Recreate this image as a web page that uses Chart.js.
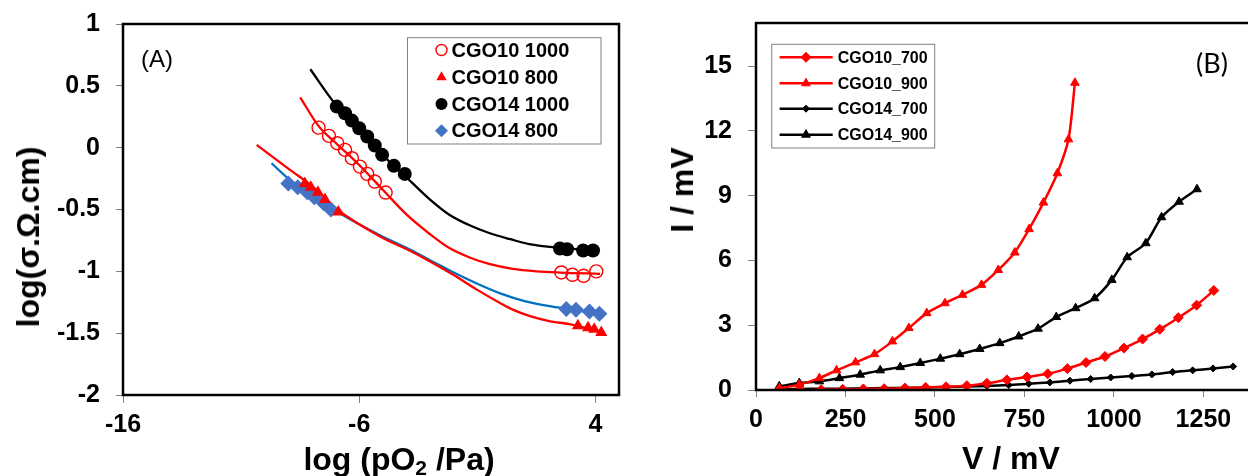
<!DOCTYPE html>
<html>
<head>
<meta charset="utf-8">
<script src="https://cdn.jsdelivr.net/npm/chart.js@4.4.1/dist/chart.umd.min.js"></script>
<style>
    html, body { margin: 0; padding: 0; width: 1248px; height: 476px; overflow: hidden; background: #fff; }
    .wrap { position: absolute; top: 0; height: 476px; }
    #wrapA { left: 0; width: 630px; }
    #wrapB { left: 640px; width: 640px; }
    .lbl { position: absolute; font-family: "Liberation Sans", Arial, sans-serif; font-weight: bold;
           font-size: 32px; line-height: 32px; white-space: nowrap; color: #000; }
    .lbl sub { font-size: 21px; line-height: 0; vertical-align: -5px; }
    .rot { transform: translate(-50%, -50%) rotate(-90deg); }
    .hc { transform: translateX(-50%); }
    .tag { position: absolute; font-family: "Liberation Sans", Arial, sans-serif; font-size: 24px; line-height: 24px; color: #000; }
</style>
</head>
<body>
<div class="wrap" id="wrapA"><canvas id="chartA"></canvas></div>
<div class="wrap" id="wrapB"><canvas id="chartB"></canvas></div>

<div class="lbl rot" style="left:28px; top:237px;">log(σ.Ω.cm)</div>
<div class="lbl hc" style="left:399px; top:443px;">log (pO<sub>2</sub> /Pa)</div>
<div class="lbl rot" style="left:682px; top:190px;">I / mV</div>
<div class="lbl hc" style="left:1011px; top:442px;">V / mV</div>
<div class="tag" style="left:141px; top:47px;">(A)</div>
<div class="tag" style="left:1196px; top:51px; font-family: Lato, sans-serif; font-size: 27px;">(B)</div>

<script>
// ---- panel A: log(sigma) vs log(pO2) ----
const xTicksA = [-16, -6, 4];
const yTicksA = [1, 0.5, 0, -0.5, -1, -1.5, -2];
const cgo10_1000_x = [-7.72, -7.28, -6.93, -6.60, -6.31, -5.97, -5.66, -5.34, -4.88, 2.56, 3.03, 3.50, 4.04];
const cgo10_1000_y = [0.162, 0.095, 0.036, -0.018, -0.085, -0.153, -0.212, -0.274, -0.363, -1.009, -1.028, -1.036, -1.000];
const cgo10_800_x = [-8.3, -8.05, -7.75, -7.45, -6.88, 3.26, 3.69, 3.95, 4.25];
const cgo10_800_y = [-0.29, -0.32, -0.36, -0.42, -0.52, -1.44, -1.457, -1.468, -1.495];
const cgo14_1000_x = [-6.95, -6.60, -6.31, -6.0, -5.66, -5.34, -5.03, -4.53, -4.07, 2.50, 2.80, 3.48, 3.90];
const cgo14_1000_y = [0.332, 0.278, 0.219, 0.157, 0.090, 0.017, -0.058, -0.147, -0.212, -0.815, -0.822, -0.832, -0.832];
const cgo14_800_x = [-9.0, -8.6, -8.2, -7.9, -7.5, -7.2, 2.77, 3.18, 3.75, 4.17];
const cgo14_800_y = [-0.29, -0.32, -0.36, -0.40, -0.45, -0.50, -1.305, -1.311, -1.325, -1.344];

// fitted curves
const fit14_1000_x = [-8.07, -7, -6, -5, -4, -3, -2.2, -1.3, -0.5, 0.4, 1.2, 2.5, 4.0];
const fit14_1000_y = [0.634, 0.35, 0.155, -0.06, -0.24, -0.42, -0.54, -0.63, -0.69, -0.74, -0.78, -0.81, -0.83];
const fit10_1000_x = [-8.5, -7.7, -7, -6, -5, -4, -3, -2.2, -1.3, -0.5, 0.5, 1.5, 2.5, 4.2];
const fit10_1000_y = [0.407, 0.17, 0.04, -0.14, -0.34, -0.54, -0.70, -0.81, -0.89, -0.94, -0.98, -1.0, -1.01, -1.02];
const fit10_800_x = [-10.34, -9, -8, -7, -6, -5, -4, -3, -2, -1, 0, 0.5, 1.2, 2, 3, 4.3];
const fit10_800_y = [0.022, -0.17, -0.31, -0.49, -0.62, -0.73, -0.82, -0.92, -1.03, -1.15, -1.26, -1.31, -1.36, -1.40, -1.43, -1.49];
const fit14_800_x = [-9.71, -9, -8, -7, -6, -5, -4, -3, -2, -1, 0, 1, 2, 3, 4.2];
const fit14_800_y = [-0.126, -0.25, -0.39, -0.51, -0.62, -0.72, -0.81, -0.91, -1.01, -1.10, -1.18, -1.24, -1.28, -1.31, -1.345];

// ---- panel B: I vs V ----
const xTicksB = [0, 250, 500, 750, 1000, 1250];
const yTicksB = [0, 3, 6, 9, 12, 15];
const v10_700 = [65, 123, 182, 242, 300, 358, 416, 474, 531, 589, 645, 701, 757, 815, 870, 922, 975, 1028, 1080, 1128, 1180, 1231, 1279];
const i10_700 = [0, 0, 0.01, 0.03, 0.05, 0.06, 0.09, 0.12, 0.15, 0.20, 0.31, 0.47, 0.60, 0.75, 0.99, 1.27, 1.55, 1.94, 2.36, 2.81, 3.35, 3.93, 4.61];
const v10_900 = [65, 121, 177, 225, 278, 331, 381, 427, 477, 528, 577, 630, 677, 723, 763, 803, 842, 873, 891];
const i10_900 = [0.09, 0.25, 0.55, 0.91, 1.28, 1.66, 2.25, 2.87, 3.56, 4.02, 4.41, 4.87, 5.56, 6.37, 7.45, 8.68, 10.04, 11.61, 14.23];
const v14_700 = [65, 123, 182, 242, 300, 358, 416, 474, 531, 589, 645, 706, 762, 821, 877, 935, 991, 1050, 1106, 1164, 1220, 1277, 1333];
const i14_700 = [0.05, 0.05, 0.06, 0.06, 0.07, 0.09, 0.10, 0.12, 0.14, 0.16, 0.19, 0.23, 0.29, 0.35, 0.43, 0.51, 0.58, 0.65, 0.72, 0.83, 0.91, 1.00, 1.09];
const v14_900 = [65, 121, 177, 233, 291, 347, 403, 459, 515, 569, 625, 681, 734, 788, 839, 893, 946, 994, 1037, 1089, 1133, 1182, 1232];
const i14_900 = [0.17, 0.32, 0.40, 0.55, 0.71, 0.91, 1.06, 1.25, 1.45, 1.66, 1.90, 2.17, 2.48, 2.84, 3.38, 3.79, 4.25, 5.10, 6.15, 6.80, 8.00, 8.72, 9.30];

const pts = (xs, ys) => xs.map((x, i) => ({ x: x, y: ys[i] }));
const FONT = '"Liberation Sans", Arial, sans-serif';

function drawMarker(ctx, style, x, y, r, fill, stroke, bw) {
    ctx.beginPath();
    if (style === 'triangle') {
        ctx.moveTo(x, y - r);
        ctx.lineTo(x + r * 0.866, y + r / 2);
        ctx.lineTo(x - r * 0.866, y + r / 2);
        ctx.closePath();
    } else if (style === 'rectRot') {
        ctx.moveTo(x, y - r); ctx.lineTo(x + r, y); ctx.lineTo(x, y + r); ctx.lineTo(x - r, y);
        ctx.closePath();
    } else {
        ctx.arc(x, y, r, 0, Math.PI * 2);
    }
    ctx.fillStyle = fill;
    ctx.fill();
    if (bw > 0) { ctx.strokeStyle = stroke; ctx.lineWidth = bw; ctx.stroke(); }
}

// black box round the plot area
const frame = {
    id: 'frame',
    afterDraw(chart) {
        const { ctx, chartArea: a } = chart;
        ctx.save();
        ctx.strokeStyle = '#000';
        ctx.lineWidth = 2.5;
        ctx.strokeRect(a.left, a.top, a.right - a.left, a.bottom - a.top);
        ctx.restore();
    }
};

// legend drawn inside the plot, in a grey box
const boxLegend = {
    id: 'boxLegend',
    afterDraw(chart, args, o) {
        const ctx = chart.ctx;
        ctx.save();
        ctx.fillStyle = '#fff';
        ctx.fillRect(o.box[0], o.box[1], o.box[2], o.box[3]);
        ctx.strokeStyle = '#808080';
        ctx.lineWidth = 1;
        ctx.strokeRect(o.box[0], o.box[1], o.box[2], o.box[3]);
        o.items.forEach((idx, k) => {
            const ds = chart.data.datasets[idx];
            const y = o.rows[k];
            if (o.line) {
                ctx.beginPath();
                ctx.moveTo(o.line[0], y);
                ctx.lineTo(o.line[1], y);
                ctx.strokeStyle = ds.borderColor;
                ctx.lineWidth = ds.borderWidth;
                ctx.stroke();
            }
            drawMarker(ctx, ds.pointStyle, o.markerX, y, o.radius[k],
                ds.pointBackgroundColor, ds.pointBorderColor, ds.pointBorderWidth);
            ctx.fillStyle = '#000';
            ctx.font = o.font;
            ctx.textBaseline = 'middle';
            ctx.fillText(ds.label, o.textX, y + 1);
        });
        ctx.restore();
    }
};

// size is fixed, and the label half-heights must not push the plot area in
function fixSize(prop, size) {
    return s => {
        s[prop] = size;
        s.paddingTop = 0; s.paddingBottom = 0; s.paddingLeft = 0; s.paddingRight = 0;
    };
}

function axis(min, max, ticks, tickLen, pad, fit) {
    return {
        type: 'linear', min: min, max: max,
        afterBuildTicks: s => { s.ticks = ticks.map(v => ({ value: v })); },
        afterFit: fit,
        ticks: { color: '#000', padding: pad, maxRotation: 0, autoSkip: false,
                 font: { family: FONT, size: 25, weight: 'bold' },
                 callback: v => String(v) },
        grid: { drawOnChartArea: false, drawTicks: true, tickLength: tickLen, color: '#7f7f7f', lineWidth: 1 },
        border: { display: false }
    };
}

const pointSet = (label, data, style, r, fill, stroke, bw) => ({
    label: label, data: data, pointStyle: style, pointRadius: r,
    pointBackgroundColor: fill, pointBorderColor: stroke, pointBorderWidth: bw,
    borderColor: stroke, showLine: false, order: 1
});
const curve = (data, color) => ({
    label: '', data: data, showLine: true, pointRadius: 0, borderColor: color,
    borderWidth: 2.3, cubicInterpolationMode: 'monotone', order: 2
});

new Chart(document.getElementById('chartA'), {
    type: 'scatter',
    data: {
        datasets: [
            pointSet('CGO10 1000', pts(cgo10_1000_x, cgo10_1000_y), 'circle', 6.5, 'rgba(255,255,255,0)', '#ff0000', 1.4),
            pointSet('CGO10 800', pts(cgo10_800_x, cgo10_800_y), 'triangle', 7, '#ff0000', '#ff0000', 0),
            pointSet('CGO14 1000', pts(cgo14_1000_x, cgo14_1000_y), 'circle', 7, '#000000', '#000000', 0),
            pointSet('CGO14 800', pts(cgo14_800_x, cgo14_800_y), 'rectRot', 8, '#4472c4', '#4472c4', 0),
            curve(pts(fit14_1000_x, fit14_1000_y), '#000000'),
            curve(pts(fit10_1000_x, fit10_1000_y), '#ff0000'),
            curve(pts(fit10_800_x, fit10_800_y), '#ff0000'),
            curve(pts(fit14_800_x, fit14_800_y), '#0070c0')
        ]
    },
    options: {
        responsive: true, maintainAspectRatio: false, animation: false,
        layout: { padding: { top: 24, right: 11, left: 0, bottom: 0 } },
        scales: {
            x: axis(-16, 5, xTicksA, 8, 7, fixSize('height', 81)),
            y: axis(-2, 1, yTicksA, 7, 16, fixSize('width', 123))
        },
        plugins: {
            legend: { display: false },
            tooltip: { enabled: false },
            boxLegend: {
                box: [407.5, 37.7, 193.5, 106.3],
                rows: [50, 77.3, 104, 130.7],
                items: [0, 1, 2, 3],
                radius: [5.5, 6, 6, 6.5],
                markerX: 441.5, textX: 451.5,
                font: 'bold 20px ' + FONT
            }
        }
    },
    plugins: [frame, boxLegend]
});

const ivSet = (label, xs, ys, color, style, r) => ({
    label: label, data: pts(xs, ys), showLine: true, borderColor: color, borderWidth: 2.5,
    pointStyle: style, pointRadius: r, pointBackgroundColor: color, pointBorderColor: color,
    pointBorderWidth: 1, tension: 0.25
});

new Chart(document.getElementById('chartB'), {
    type: 'scatter',
    data: {
        datasets: [
            ivSet('CGO10_700', v10_700, i10_700, '#ff0000', 'rectRot', 5),
            ivSet('CGO10_900', v10_900, i10_900, '#ff0000', 'triangle', 5),
            ivSet('CGO14_700', v14_700, i14_700, '#000000', 'rectRot', 3.5),
            ivSet('CGO14_900', v14_900, i14_900, '#000000', 'triangle', 5)
        ]
    },
    options: {
        responsive: true, maintainAspectRatio: false, animation: false,
        layout: { padding: { top: 23, right: 10, left: 0, bottom: 0 } },
        scales: {
            x: axis(0, 1436, xTicksB, 7, 8, fixSize('height', 86)),
            y: axis(0, 17, yTicksB, 8, 16, fixSize('width', 116))
        },
        plugins: {
            legend: { display: false },
            tooltip: { enabled: false },
            boxLegend: {
                box: [131.8, 44.3, 162.9, 103.7],
                rows: [57.3, 83.3, 108.7, 134.7],
                items: [0, 1, 2, 3],
                radius: [5, 5, 3.5, 5],
                line: [139.6, 192.7],
                markerX: 166, textX: 197.8,
                font: 'bold 16px ' + FONT
            }
        }
    },
    plugins: [frame, boxLegend]
});
</script>
</body>
</html>
